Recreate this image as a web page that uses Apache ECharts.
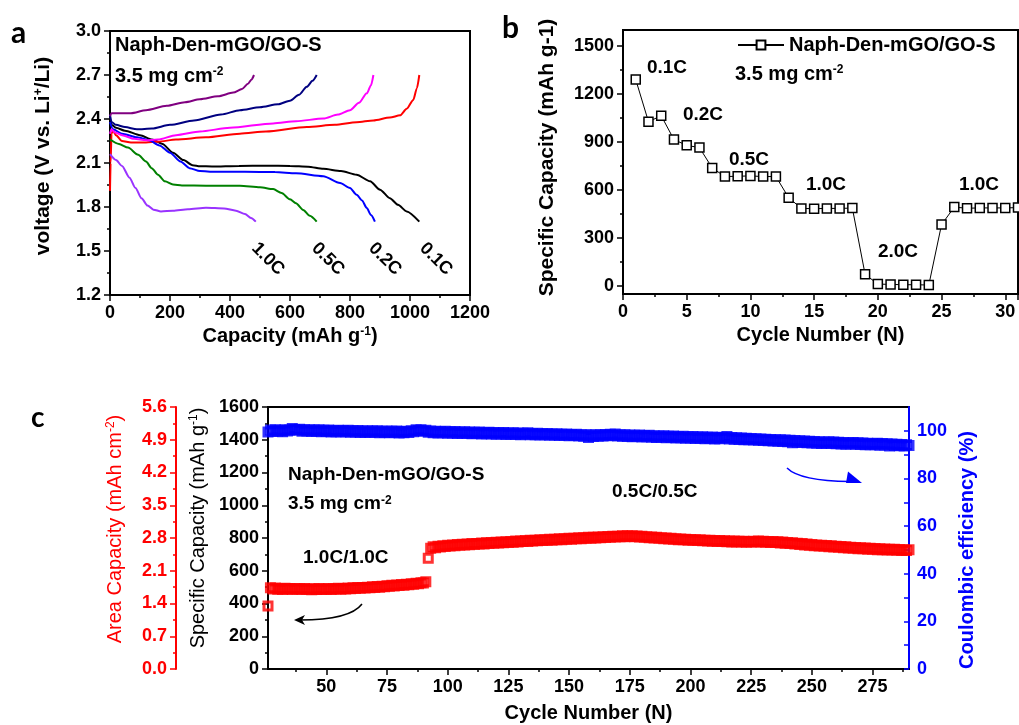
<!DOCTYPE html>
<html>
<head>
<meta charset="utf-8">
<title>Naph-Den-mGO/GO-S</title>
<script src="https://cdn.jsdelivr.net/npm/echarts@6/dist/echarts.min.js"></script>
<style>
  html, body { margin: 0; padding: 0; background: #fff; }
  #main { width: 1019px; height: 725px; }
</style>
</head>
<body>
<div id="main"></div>
<script>
// ---- panel a: charge / discharge profiles, [capacity (mAh/g), voltage (V)]
const dis01 = [[0, 2.40], [5, 2.36], [20, 2.34], [50, 2.32], [100, 2.29], [140, 2.26], [175, 2.23], [210, 2.17], [245, 2.12], [275, 2.085], [300, 2.078], [340, 2.076], [430, 2.08], [520, 2.082], [600, 2.08], [660, 2.075], [711, 2.06], [770, 2.045], [822, 2.02], [867, 1.975], [900, 1.918], [933, 1.86], [960, 1.815], [989, 1.77], [1031, 1.70]];
const chg01 = [[0, 1.91], [2, 2.10], [5, 2.30], [10, 2.32], [20, 2.29], [40, 2.25], [70, 2.24], [120, 2.24], [160, 2.245], [220, 2.26], [320, 2.275], [433, 2.30], [520, 2.315], [656, 2.346], [750, 2.36], [822, 2.378], [878, 2.39], [933, 2.41], [967, 2.425], [989, 2.47], [1011, 2.53], [1023, 2.61], [1031, 2.70]];
const dis02 = [[0, 2.38], [10, 2.33], [40, 2.30], [90, 2.275], [130, 2.255], [165, 2.22], [200, 2.17], [235, 2.11], [265, 2.065], [300, 2.045], [350, 2.04], [450, 2.04], [550, 2.038], [620, 2.03], [711, 2.01], [767, 1.963], [800, 1.93], [822, 1.884], [840, 1.845], [856, 1.793], [870, 1.745], [883, 1.70]];
const chg02 = [[0, 2.30], [5, 2.33], [15, 2.31], [40, 2.29], [80, 2.265], [120, 2.255], [160, 2.26], [220, 2.29], [300, 2.315], [400, 2.34], [544, 2.37], [620, 2.385], [711, 2.403], [760, 2.43], [800, 2.46], [830, 2.51], [856, 2.575], [870, 2.63], [878, 2.70]];
const dis05 = [[0, 2.26], [30, 2.23], [60, 2.205], [94, 2.156], [120, 2.11], [139, 2.065], [160, 2.02], [183, 1.975], [210, 1.953], [240, 1.947], [320, 1.945], [433, 1.945], [500, 1.935], [544, 1.922], [572, 1.895], [600, 1.852], [620, 1.825], [644, 1.78], [666, 1.74], [689, 1.70]];
const chg05 = [[0, 2.43], [5, 2.38], [20, 2.36], [50, 2.345], [90, 2.33], [140, 2.335], [200, 2.36], [280, 2.39], [370, 2.43], [433, 2.46], [500, 2.48], [560, 2.50], [600, 2.525], [630, 2.565], [656, 2.62], [675, 2.66], [689, 2.70]];
const dis10 = [[0, 2.16], [20, 2.12], [40, 2.08], [65, 2.00], [85, 1.93], [105, 1.86], [125, 1.81], [145, 1.782], [170, 1.77], [210, 1.775], [260, 1.785], [320, 1.795], [380, 1.79], [420, 1.775], [450, 1.752], [470, 1.725], [486, 1.70]];
const chg10 = [[0, 2.42], [5, 2.44], [20, 2.44], [70, 2.44], [120, 2.46], [189, 2.49], [250, 2.515], [300, 2.535], [360, 2.555], [411, 2.58], [440, 2.605], [460, 2.64], [472, 2.67], [480, 2.70]];
const rateA = ['1.0C', '0.5C', '0.2C', '0.1C'];

// ---- panel b: rate performance
const bCycles = [1, 2, 3, 4, 5, 6, 7, 8, 9, 10, 11, 12, 13, 14, 15, 16, 17, 18, 19, 20, 21, 22, 23, 24, 25, 26, 27, 28, 29, 30, 31];
const bCapacity = [1290, 1027, 1064, 915, 879, 865, 738, 684, 686, 688, 684, 684, 552, 485, 483, 485, 485, 487, 73, 12, 10, 8, 8, 6, 384, 493, 486, 488, 488, 488, 490];
const bYTicks = [0, 300, 600, 900, 1200, 1500];
const bYMinor = [150, 450, 750, 1050, 1350];
const rateB = [[667, 68, '0.1C'], [703, 115, '0.2C'], [749, 160, '0.5C'], [826, 185, '1.0C'], [898, 252, '2.0C'], [979, 185, '1.0C']];

// ---- panel c: long cycling, first cycle shown is 26
const cFirstCycle = 26;
const cCapacity = [
  385, 496, 489, 494, 487, 492, 486, 493, 488, 491,
  486, 492, 488, 490, 485, 491, 487, 489, 484, 490,
  486, 491, 485, 489, 487, 492, 486, 490, 488, 493,
  487, 492, 489, 494, 490, 496, 491, 497, 493, 498,
  494, 500, 496, 502, 498, 504, 500, 506, 502, 508,
  505, 511, 507, 513, 510, 516, 512, 518, 515, 521,
  518, 524, 521, 527, 525, 533,
  676,
  738, 746, 741, 750, 745, 753, 748, 756,
  751, 758, 753, 760, 755, 762, 757, 764, 759, 766,
  761, 767, 763, 769, 764, 771, 766, 772, 768, 774,
  769, 776, 771, 777, 773, 779, 774, 781, 776, 782,
  778, 784, 779, 786, 781, 787, 783, 789, 784, 790,
  786, 792, 787, 793, 789, 795, 790, 796, 792, 798,
  793, 799, 795, 801, 796, 802, 798, 804, 799, 805,
  800, 806, 802, 807, 803, 809, 804, 810, 806, 811,
  807, 813, 808, 814, 809, 813, 808, 812, 806, 810,
  804, 808, 802, 806, 800, 804, 798, 802, 796, 800,
  794, 798, 792, 796, 790, 794, 789, 793, 787, 791,
  786, 790, 784, 789, 783, 787, 782, 786, 780, 785,
  779, 784, 778, 783, 777, 782, 776, 781, 775, 780,
  775, 780, 774, 779, 775, 780, 776, 781, 775, 780,
  774, 779, 773, 778, 772, 777, 770, 775, 768, 773,
  766, 771, 764, 768, 761, 766, 758, 763, 756, 760,
  753, 758, 751, 756, 749, 754, 747, 752, 745, 750,
  743, 748, 741, 746, 739, 744, 737, 742, 735, 740,
  734, 739, 732, 737, 731, 736, 729, 735, 728, 733,
  727, 732, 726, 731, 725, 730, 724, 729, 723, 728
];
const cEfficiency = [
  99.5, 100.3, 99.7, 100.4, 99.8, 100.2, 99.6, 100.5, 99.9, 100.3,
  101.0, 100.6, 100.2, 100.7, 99.8, 100.4, 99.9, 100.5, 99.7, 100.3,
  99.8, 100.4, 99.6, 100.2, 99.7, 100.3, 99.5, 100.1, 99.6, 100.2,
  99.5, 100.1, 99.6, 100.2, 99.4, 100.0, 99.5, 100.1, 99.3, 99.9,
  99.4, 100.0, 99.3, 99.9, 99.4, 100.0, 99.2, 99.8, 99.3, 99.9,
  99.2, 99.8, 99.3, 99.9, 99.1, 99.7, 99.2, 99.8, 99.3, 100.0,
  99.6, 100.4, 100.0, 100.5, 99.8, 100.2, 99.4, 99.9, 99.2, 99.8,
  99.1, 99.7, 99.2, 99.8, 99.0, 99.6, 99.1, 99.7, 98.9, 99.5,
  99.0, 99.6, 98.9, 99.5, 98.8, 99.4, 98.9, 99.5, 98.7, 99.3,
  98.8, 99.4, 98.7, 99.3, 98.6, 99.2, 98.7, 99.3, 98.5, 99.1,
  98.6, 99.2, 98.5, 99.1, 98.4, 99.0, 98.6, 99.2, 98.3, 98.9,
  98.4, 99.0, 98.2, 98.8, 98.3, 98.9, 98.1, 98.7, 98.2, 98.8,
  98.0, 98.6, 98.1, 98.7, 97.9, 98.5, 98.0, 98.6, 97.8, 98.4,
  97.7, 98.3, 97.2, 98.2, 97.6, 98.3, 97.7, 98.4, 97.8, 98.5,
  97.9, 98.6, 98.0, 98.7, 97.8, 98.4, 97.7, 98.3, 97.6, 98.2,
  97.5, 98.1, 97.6, 98.2, 97.4, 98.0, 97.5, 98.1, 97.3, 97.9,
  97.2, 97.8, 97.3, 97.9, 97.1, 97.7, 97.2, 97.8, 97.0, 97.6,
  97.1, 97.7, 96.9, 97.5, 97.0, 97.6, 96.8, 97.4, 96.9, 97.5,
  96.7, 97.3, 96.8, 97.4, 96.6, 97.2, 96.7, 97.3, 96.9, 97.6,
  96.6, 97.2, 96.5, 97.1, 96.4, 97.0, 96.3, 96.9, 96.2, 96.8,
  96.1, 96.7, 96.0, 96.6, 95.9, 96.5, 95.8, 96.4, 95.7, 96.3,
  95.6, 96.2, 95.5, 96.1, 95.4, 96.0, 95.0, 95.9, 95.2, 95.8,
  95.1, 95.7, 95.0, 95.6, 94.9, 95.5, 94.8, 95.4, 94.7, 95.3,
  94.8, 95.4, 94.7, 95.3, 94.6, 95.2, 94.5, 95.1, 94.4, 95.0,
  94.5, 95.1, 94.4, 95.0, 94.3, 94.9, 94.2, 94.8, 94.1, 94.7,
  94.2, 94.8, 93.9, 94.7, 94.0, 94.6, 93.6, 94.5, 93.8, 94.4,
  93.7, 94.3, 93.6, 94.2, 93.8
];
const cXTicks = [50, 75, 100, 125, 150, 175, 200, 225, 250, 275];
const cXMinor = [37.5, 62.5, 87.5, 112.5, 137.5, 162.5, 187.5, 212.5, 237.5, 262.5, 287.5];
const ceLabels = [0, 20, 40, 60, 80, 100];
const ceTicks = [0, 10, 20, 30, 40, 50, 60, 70, 80, 90, 100];

const FONT = '"Liberation Sans", Arial, sans-serif';
const chart = echarts.init(document.getElementById('main'));

// common axis look (Origin style: thick line, outward ticks, no grid lines)
function ax(color, extra) {
  const o = {
    type: 'value',
    axisLine: { show: true, onZero: false, lineStyle: { color: color, width: 2 } },
    axisTick: { show: true, length: 6, lineStyle: { color: color, width: 1.5 } },
    minorTick: { show: true, splitNumber: 2, length: 3, lineStyle: { color: color, width: 1.5 } },
    splitLine: { show: false },
    minorSplitLine: { show: false },
    axisLabel: { color: color, fontSize: 18, fontWeight: 'bold', fontFamily: FONT, margin: 9, formatter: v => String(v) },
    nameTextStyle: { color: color, fontSize: 21, fontWeight: 'bold', fontFamily: FONT }
  };
  for (const k in extra) {
    if (o[k] && typeof o[k] === 'object' && !Array.isArray(o[k])) o[k] = Object.assign({}, o[k], extra[k]);
    else o[k] = extra[k];
  }
  return o;
}
// an axis that only carries the short minor ticks
function minorAx(gridIndex, min, max, ticks, pos) {
  return {
    type: 'value', gridIndex: gridIndex, min: min, max: max, position: pos,
    axisLine: { show: false, onZero: false },
    axisTick: { show: true, length: 3, customValues: ticks, lineStyle: { color: '#000', width: 1.5 } },
    axisLabel: { show: false }, splitLine: { show: false }
  };
}
function supName(text, sup, tail, size, weight, color) {
  return {
    name: '{t|' + text + '}{s|' + sup + '}{t|' + tail + '}',
    rich: {
      t: { fontSize: size, fontWeight: weight, fontFamily: FONT, color: color },
      s: { fontSize: 12, fontWeight: weight, fontFamily: FONT, color: color, verticalAlign: 'top' }
    }
  };
}

const aX = supName('Capacity (mAh g', '-1', ')', 20, 'bold', '#000');
const aY = supName('voltage (V vs. Li', '+', '/Li)', 21, 'bold', '#000');
const cSpec = supName('Specific Capacity (mAh g', '-1', ')', 20, 'normal', '#000');
const cArea = supName('Area Capacity (mAh cm', '-2', ')', 20, 'normal', '#f00');

const gridBase = { show: true, borderColor: '#000', borderWidth: 2, containLabel: false, outerBoundsMode: 'none' };

function profile(data, color) {
  return {
    type: 'line', xAxisIndex: 0, yAxisIndex: 0, data: data, showSymbol: false,
    smooth: 0.25, smoothMonotone: 'x', lineStyle: { color: color, width: 2 }, z: 3
  };
}

function txt(x, y, text, size, align) {
  return {
    type: 'text', x: x, y: y,
    style: { text: text, fontFamily: FONT, fontSize: size, fontWeight: 'bold', fill: '#000', align: align || 'left', verticalAlign: 'middle' }
  };
}
function loading(x, y, size) {
  return {
    type: 'text', x: x, y: y,
    style: {
      text: '{n|3.5 mg cm}{s|-2}', verticalAlign: 'middle', align: 'left',
      rich: {
        n: { fontSize: size, fontWeight: 'bold', fontFamily: FONT, fill: '#000' },
        s: { fontSize: 12, fontWeight: 'bold', fontFamily: FONT, fill: '#000', verticalAlign: 'top' }
      }
    }
  };
}
function rateLabel(x, text) {
  return {
    type: 'text', x: x, y: 259, rotation: -Math.PI / 4,
    style: { text: text, fontFamily: FONT, fontSize: 18, fontWeight: 'bold', fill: '#000', align: 'center', verticalAlign: 'middle' }
  };
}
function letter(x, y, t, size) {
  return { type: 'text', x: x, y: y, style: { text: t, fontFamily: 'Lato, "Open Sans", sans-serif', fontSize: size, fontWeight: 'bold', fill: '#000', verticalAlign: 'middle' } };
}

const option = {
  animation: false,
  backgroundColor: '#fff',
  grid: [
    Object.assign({ left: 110, top: 31, width: 360, height: 264 }, gridBase),
    Object.assign({ left: 623, top: 30, width: 395, height: 264 }, gridBase),
    Object.assign({ left: 268, top: 407, width: 641, height: 262 }, gridBase)
  ],
  xAxis: [
    ax('#000', {
      gridIndex: 0, min: 0, max: 1200, interval: 200, position: 'bottom',
      name: aX.name, nameLocation: 'middle', nameGap: 31,
      nameTextStyle: { rich: aX.rich }
    }),
    ax('#000', {
      gridIndex: 1, min: 0, max: 31, interval: 5, position: 'bottom',
      axisLabel: { showMaxLabel: false },
      name: 'Cycle Number (N)', nameLocation: 'middle', nameGap: 31,
      nameTextStyle: { fontSize: 20 }
    }),
    ax('#000', {
      gridIndex: 2, min: 26, max: 290, position: 'bottom',
      axisTick: { customValues: cXTicks },
      axisLabel: { customValues: cXTicks },
      minorTick: { show: false },
      name: 'Cycle Number (N)', nameLocation: 'middle', nameGap: 34,
      nameTextStyle: { fontSize: 20 }
    }),
    minorAx(2, 26, 290, cXMinor, 'bottom')
  ],
  yAxis: [
    ax('#000', {
      gridIndex: 0, min: 1.2, max: 3.0, interval: 0.3, position: 'left',
      axisLabel: { formatter: v => v.toFixed(1) },
      name: aY.name, nameLocation: 'middle', nameRotate: 90, nameGap: 56,
      nameTextStyle: { rich: aY.rich, padding: [0, 0, 0, 14] }
    }),
    ax('#000', {
      gridIndex: 1, min: -50, max: 1600, position: 'left',
      axisTick: { customValues: bYTicks },
      axisLabel: { customValues: bYTicks },
      minorTick: { show: false },
      name: 'Specific Capacity (mAh g-1)', nameLocation: 'middle', nameRotate: 90, nameGap: 65,
      nameTextStyle: { padding: [0, 0, 0, 9] }
    }),
    minorAx(1, -50, 1600, bYMinor, 'left'),
    ax('#000', {
      gridIndex: 2, min: 0, max: 1600, interval: 200, position: 'left',
      name: cSpec.name, nameLocation: 'middle', nameRotate: 90, nameGap: 49,
      nameTextStyle: { rich: cSpec.rich, padding: [0, 0, 0, 20] }
    }),
    ax('#f00', {
      gridIndex: 2, min: 0, max: 5.6, interval: 0.7, position: 'left', offset: 92,
      axisLabel: { formatter: v => v.toFixed(1) },
      name: cArea.name, nameLocation: 'middle', nameRotate: 90, nameGap: 51,
      nameTextStyle: { color: '#f00', rich: cArea.rich, padding: [0, 0, 0, 18] }
    }),
    ax('#00f', {
      gridIndex: 2, min: 0, max: 110, position: 'right',
      axisTick: { customValues: ceTicks, inside: true, length: 5 },
      axisLabel: { customValues: ceLabels, margin: 8 },
      minorTick: { show: false },
      name: 'Coulombic efficiency (%)', nameLocation: 'middle', nameRotate: 90, nameGap: 33,
      nameTextStyle: { fontSize: 20, padding: [0, 24, 0, 0] }
    })
  ],
  legend: {
    data: ['Naph-Den-mGO/GO-S'],
    left: 737, top: 35, padding: 0,
    itemWidth: 46, itemHeight: 11,
    textStyle: { fontSize: 20, fontWeight: 'bold', fontFamily: FONT, color: '#000' }
  },
  series: [
    profile(dis01, '#000000'),
    profile(chg01, '#ff0000'),
    profile(dis02, '#0000ff'),
    profile(chg02, '#ff00ff'),
    profile(dis05, '#008000'),
    profile(chg05, '#000080'),
    profile(dis10, '#9933ff'),
    profile(chg10, '#800080'),
    {
      name: 'Naph-Den-mGO/GO-S', type: 'line', xAxisIndex: 1, yAxisIndex: 1,
      data: bCycles.map((c, i) => [c, bCapacity[i]]),
      symbol: 'rect', symbolSize: 9, showAllSymbol: true,
      lineStyle: { color: '#000', width: 1 },
      itemStyle: { color: '#fff', borderColor: '#000', borderWidth: 1.5 }
    },
    {
      type: 'scatter', xAxisIndex: 2, yAxisIndex: 3,
      data: cCapacity.map((v, i) => [cFirstCycle + i, v]),
      symbol: 'rect', symbolSize: 8,
      itemStyle: { color: 'rgba(0,0,0,0)', borderColor: '#ff0000', borderWidth: 3 }
    },
    {
      type: 'scatter', xAxisIndex: 2, yAxisIndex: 5,
      data: cEfficiency.map((v, i) => [cFirstCycle + i, v]),
      symbol: 'rect', symbolSize: 8,
      itemStyle: { color: 'rgba(0,0,0,0)', borderColor: '#0000ff', borderWidth: 3 }
    }
  ],
  graphic: [
    // panel letters
    letter(11, 33, 'a', 30),
    letter(502, 28, 'b', 30),
    letter(31, 418, 'c', 28),
    // panel a annotations
    txt(115, 45, 'Naph-Den-mGO/GO-S', 20),
    loading(115, 76, 20),
    rateLabel(268, rateA[0]),
    rateLabel(328, rateA[1]),
    rateLabel(385, rateA[2]),
    rateLabel(436, rateA[3]),
    // panel b annotations
    loading(735, 74, 20)
  ].concat(rateB.map(r => txt(r[0], r[1], r[2], 19, 'center'))).concat([
    // panel c annotations
    txt(288, 475, 'Naph-Den-mGO/GO-S', 19),
    loading(288, 504, 19),
    txt(303, 558, '1.0C/1.0C', 19),
    txt(612, 492, '0.5C/0.5C', 19),
    // arrows pointing to the matching axes
    { type: 'bezierCurve', shape: { x1: 362, y1: 604, cpx1: 350, cpy1: 620, x2: 300, y2: 620 }, style: { stroke: '#000', lineWidth: 1.5, fill: null } },
    { type: 'polygon', shape: { points: [[294, 620], [305, 615], [302, 620], [305, 625]] }, style: { fill: '#000' } },
    { type: 'bezierCurve', shape: { x1: 787, y1: 468, cpx1: 800, cpy1: 481, x2: 850, y2: 481.5 }, style: { stroke: '#00f', lineWidth: 1.5, fill: null } },
    { type: 'polygon', shape: { points: [[848, 471.5], [862, 483], [846, 483]] }, style: { fill: '#00f' } }
  ])
};

chart.setOption(option);
</script>
</body>
</html>
